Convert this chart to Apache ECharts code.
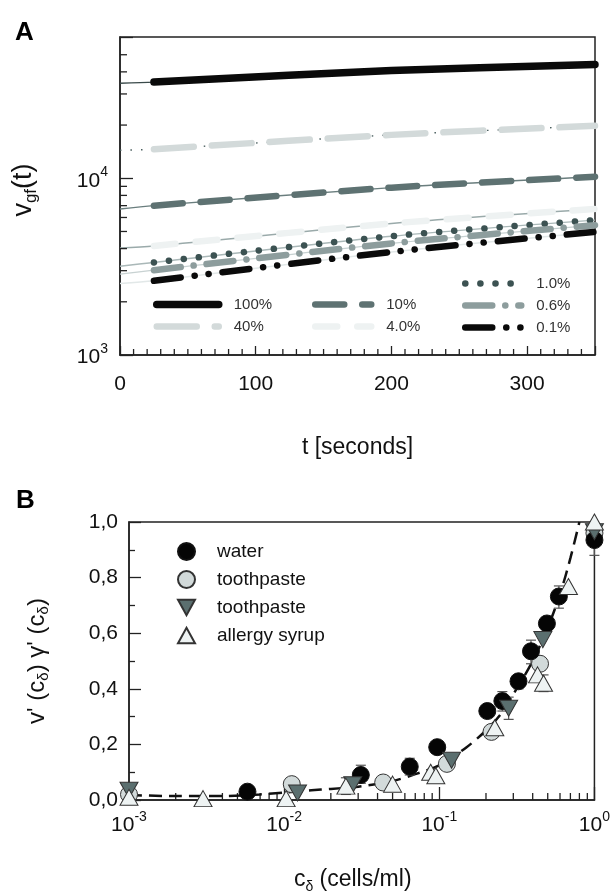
<!DOCTYPE html>
<html><head><meta charset="utf-8">
<script src="https://cdn.jsdelivr.net/npm/echarts@6/dist/echarts.min.js"></script>
<style>html,body{margin:0;padding:0;background:#fff}#c{width:613px;height:895px}</style>
</head><body><div id="c"></div>
<script>
const FONT = 'Liberation Sans, Arial, sans-serif';
// ---------- Panel A data ----------
const timesA = [0, 25, 200, 350];
const v100 = [34500, 35000, 40700, 44000];
const v40  = [14400, 14600, 17600, 19800];
const v10  = [6700, 7000, 8850, 10200];
const v4   = [4040, 4140, 5550, 6700];
const v1   = [3180, 3340, 4700, 5800];
const v06  = [2870, 3020, 4280, 5430];
const v01  = [2540, 2630, 3830, 4970];
const yMinorA = [2000,3000,4000,5000,6000,7000,8000,9000,20000,30000,40000,50000];
const xMinorA = [10,20,30,40,50,60,70,80,90,110,120,130,140,150,160,170,180,190,210,220,230,240,250,260,270,280,290,310,320,330,340];
// ---------- Panel B data ----------
const water = [[0.0058,0.03],[0.0312,0.09],[0.0645,0.12],[0.097,0.19],[0.204,0.32],[0.255,0.356],[0.324,0.427],[0.39,0.535],[0.494,0.635],[0.59,0.732],[1.0,0.935]];
const toothCircle = [[0.001,0.02],[0.0112,0.057],[0.0435,0.063],[0.112,0.13],[0.217,0.245],[0.446,0.49],[1.0,0.96]];
const toothTri = [[0.001,0.035],[0.0122,0.025],[0.0277,0.055],[0.12,0.143],[0.28,0.33],[0.465,0.577],[1.0,0.965]];
const syrup = [[0.001,0.01],[0.003,0.005],[0.0103,0.005],[0.025,0.05],[0.05,0.057],[0.088,0.10],[0.095,0.087],[0.228,0.26],[0.43,0.45],[0.47,0.42],[0.68,0.768],[1.0,1.0]];
const fitX = [0.001,0.002,0.004,0.007,0.01,0.015,0.02,0.03,0.05,0.07,0.1,0.15,0.2,0.25,0.3,0.4,0.5,0.6,0.7,0.8];
const fitY = [0.018,0.014,0.014,0.02,0.027,0.035,0.04,0.048,0.068,0.093,0.125,0.19,0.25,0.31,0.38,0.5,0.62,0.74,0.87,1.0];
const errBars = [[0.0058,0.018,0.042],[0.0312,0.06,0.125],[0.0645,0.09,0.15],[0.025,0.02,0.08],[0.255,0.32,0.39],[0.28,0.29,0.37],[0.324,0.40,0.45],[0.39,0.49,0.575],[0.446,0.47,0.51],[0.47,0.39,0.45],[0.59,0.69,0.77],[1.0,0.88,0.99]];
const xMinorB = [0.002,0.003,0.004,0.005,0.006,0.007,0.008,0.009,0.02,0.03,0.04,0.05,0.06,0.07,0.08,0.09,0.2,0.3,0.4,0.5,0.6,0.7,0.8,0.9];

const zip = (xs, ys) => xs.map((x, i) => [x, ys[i]]);
const chart = echarts.init(document.getElementById('c'), null, {renderer: 'canvas'});

const concs = [
  {name:'100%', v:v100, color:'#0a0a0a', dash:'solid', w:7.5, thin:'#3a4a4a', thinType:'solid'},
  {name:'40%',  v:v40,  color:'#d3dada', dash:[40,18], w:6.5, thin:'#4a5e5e', thinType:[1.5,9]},
  {name:'10%',  v:v10,  color:'#5e7272', dash:[29,18], w:6.5, thin:'#6a7e7e', thinType:'solid'},
  {name:'4.0%', v:v4,   color:'#eef2f2', dash:[22,20], w:6.5, thin:'#9aaaaa', thinType:'solid'},
  {name:'1.0%', v:v1,   color:'#3c5252', dash:[0.1,15], w:6.5, thin:'#aab8b8', thinType:'solid'},
  {name:'0.6%', v:v06,  color:'#8d9d9d', dash:[27,13,0.1,13], w:6.5, thin:'#c8d2d2', thinType:'solid'},
  {name:'0.1%', v:v01,  color:'#0a0a0a', dash:[27,14,0.1,14,0.1,14], w:6.5, thin:'#e2e8e8', thinType:'solid'}
];

const series = [];
concs.forEach(c => {
  series.push({type:'line', name:'thin'+c.name, xAxisIndex:0, yAxisIndex:0, data: zip(timesA, c.v),
    symbol:'none', smooth:0.3, silent:true, z:2,
    lineStyle:{color:c.thin, width:1.4, type:c.thinType}});
});
concs.forEach(c => {
  series.push({type:'line', name:c.name, xAxisIndex:0, yAxisIndex:0, data: zip(timesA.slice(1), c.v.slice(1)),
    symbol:'none', smooth:0.3, silent:true, z:3,
    itemStyle:{color:c.color},
    lineStyle:{color:c.color, width:c.w, type:c.dash, cap:'round'}});
});
// minor ticks A
series.push({type:'scatter', name:'yminA', xAxisIndex:0, yAxisIndex:0, data: yMinorA.map(v=>[0,v]), symbol:'rect',
  symbolSize:[7,1.3], symbolOffset:[3.5,0], itemStyle:{color:'#222', opacity:1}, silent:true, clip:false, z:5});
series.push({type:'scatter', name:'xminA', xAxisIndex:0, yAxisIndex:0, data: xMinorA.map(v=>[v,1000]), symbol:'rect',
  symbolSize:[1.3,6], symbolOffset:[0,-3], itemStyle:{color:'#222', opacity:1}, silent:true, clip:false, z:5});
// Panel B
series.push({type:'scatter', name:'xminB', xAxisIndex:1, yAxisIndex:1, data: xMinorB.map(v=>[v,0]), symbol:'rect',
  symbolSize:[1.3,7], symbolOffset:[0,-3.5], itemStyle:{color:'#222', opacity:1}, silent:true, clip:false, z:1});
series.push({type:'line', name:'fit', xAxisIndex:1, yAxisIndex:1, data: zip(fitX, fitY), symbol:'none', smooth:0.3,
  silent:true, z:2, lineStyle:{color:'#111', width:2.5, type:[13,7]}});
series.push({type:'custom', name:'err', xAxisIndex:1, yAxisIndex:1, data: errBars, silent:true, z:3, clip:false,
  encode:{x:0, y:[1,2]},
  renderItem:(params, api) => {
    const x = api.value(0), lo = api.value(1), hi = api.value(2);
    const p1 = api.coord([x, lo]), p2 = api.coord([x, hi]);
    const w = 5, st = {stroke:'#555', lineWidth:1.2};
    return {type:'group', children:[
      {type:'line', shape:{x1:p1[0],y1:p1[1],x2:p2[0],y2:p2[1]}, style:st},
      {type:'line', shape:{x1:p1[0]-w,y1:p1[1],x2:p1[0]+w,y2:p1[1]}, style:st},
      {type:'line', shape:{x1:p2[0]-w,y1:p2[1],x2:p2[0]+w,y2:p2[1]}, style:st}
    ]};
  }});
const downTri = 'path://M0,0 L10,0 L5,9 Z';
const upTri = 'path://M5,0 L10,9 L0,9 Z';
series.push({type:'scatter', name:'water', xAxisIndex:1, yAxisIndex:1, data: water, symbol:'circle', symbolSize:17,
  itemStyle:{color:'#050505', borderColor:'#111', borderWidth:1, opacity:1}, z:5, clip:false});
series.push({type:'scatter', name:'toothpaste', xAxisIndex:1, yAxisIndex:1, data: toothCircle, symbol:'circle', symbolSize:17,
  itemStyle:{color:'#d2dada', borderColor:'#333', borderWidth:1, opacity:1}, z:4, clip:false});
series.push({type:'scatter', name:'toothpaste ', xAxisIndex:1, yAxisIndex:1, data: toothTri, symbol:downTri, symbolSize:[18,16],
  itemStyle:{color:'#5b6f6f', borderColor:'#333', borderWidth:1, opacity:1}, z:6, clip:false});
series.push({type:'scatter', name:'allergy syrup', xAxisIndex:1, yAxisIndex:1, data: syrup, symbol:upTri, symbolSize:[18,16],
  itemStyle:{color:'#eef3f3', borderColor:'#333', borderWidth:1, opacity:1}, z:7, clip:false});

const pow10Fmt = v => {
  const e = Math.log10(v);
  if (Math.abs(e - Math.round(e)) > 1e-6) return '';
  return '{b|10}{s|' + Math.round(e) + '}';
};
const supRich = {b:{fontSize:21, fontFamily:FONT, color:'#111', lineHeight:26, verticalAlign:'bottom'},
                 s:{fontSize:14, fontFamily:FONT, color:'#111', lineHeight:14, verticalAlign:'top'}};
const axisLineStyle = {show:true, lineStyle:{color:'#222', width:1.5}};
const legA = {orient:'vertical', itemHeight:8, itemGap:7, selectedMode:false,
  itemStyle:{opacity:0}, lineStyle:{width:'inherit'}};

const option = {
  animation:false,
  textStyle:{fontFamily:FONT},
  graphic:[
    {type:'text', left:15, top:20, style:{text:'A', font:'bold 26px ' + FONT, fill:'#000'}},
    {type:'text', left:16, top:488, style:{text:'B', font:'bold 26px ' + FONT, fill:'#000'}}
  ],
  grid:[
    {left:120, top:37, width:475, height:318, show:true, borderColor:'#222', borderWidth:1.5, backgroundColor:'transparent'},
    {left:129, top:522, width:467, height:279, show:true, borderColor:'#222', borderWidth:1.5, backgroundColor:'transparent'}
  ],
  xAxis:[
    {type:'value', gridIndex:0, min:0, max:350, interval:100,
     axisLine:axisLineStyle, splitLine:{show:false},
     axisTick:{show:true, inside:true, length:9, lineStyle:{color:'#222', width:1.3}},
     axisLabel:{fontSize:21, color:'#111', margin:19, formatter:v => (v % 100 === 0 ? String(v) : '')},
     name:'t [seconds]', nameLocation:'middle', nameGap:81, nameTextStyle:{fontSize:23, color:'#111'}},
    {type:'log', gridIndex:1, min:0.001, max:1, logBase:10,
     axisLine:axisLineStyle, splitLine:{show:false},
     axisTick:{show:true, inside:true, length:13, lineStyle:{color:'#222', width:1.3}},
     axisLabel:{margin:10, formatter:pow10Fmt, rich:supRich},
     name:'{a|c}{s|δ}{a| (cells/ml)}', nameLocation:'middle', nameGap:66,
     nameTextStyle:{padding:[0,18,0,0], rich:{a:{fontSize:23, color:'#111', fontFamily:FONT, lineHeight:28}, s:{fontSize:14, color:'#111', fontFamily:FONT, lineHeight:28, verticalAlign:'bottom'}}}}
  ],
  yAxis:[
    {type:'log', gridIndex:0, min:1000, max:63000, logBase:10,
     axisLine:axisLineStyle, splitLine:{show:false},
     axisTick:{show:true, inside:true, length:13, lineStyle:{color:'#222', width:1.3}},
     axisLabel:{margin:12, formatter:pow10Fmt, rich:supRich},
     name:'{a|v}{s|gf}{a|(t)}', nameLocation:'middle', nameGap:80, nameRotate:90,
     nameTextStyle:{padding:[0,0,0,12], rich:{a:{fontSize:27, color:'#111', fontFamily:FONT, lineHeight:32}, s:{fontSize:17, color:'#111', fontFamily:FONT, lineHeight:32, verticalAlign:'bottom'}}}},
    {type:'value', gridIndex:1, min:0, max:1, interval:0.2,
     axisLine:axisLineStyle, splitLine:{show:false},
     axisTick:{show:true, inside:true, length:12, lineStyle:{color:'#222', width:1.3}},
     minorTick:{show:true, splitNumber:2, length:6, lineStyle:{color:'#222', width:1.3}},
     axisLabel:{fontSize:21, color:'#111', margin:11, formatter:v => v.toFixed(1).replace('.', ',')},
     name:"{a|v' (c}{s|δ}{a|) γ' (c}{s|δ}{a|)}", nameLocation:'middle', nameGap:78, nameRotate:90,
     nameTextStyle:{rich:{a:{fontSize:24, color:'#111', fontFamily:FONT, lineHeight:28}, s:{fontSize:15, color:'#111', fontFamily:FONT, lineHeight:28, verticalAlign:'bottom'}}}}
  ],
  legend:[
    Object.assign({left:148, top:292, data:['100%','40%'], itemWidth:62,
     textStyle:{fontSize:15, color:'#333', padding:[0,0,0,10]}}, legA),
    Object.assign({left:307, top:292, data:['10%','4.0%'], itemWidth:56,
     textStyle:{fontSize:15, color:'#333', padding:[0,0,0,10]}}, legA),
    Object.assign({left:457, top:271, data:['1.0%','0.6%','0.1%'], itemWidth:56,
     textStyle:{fontSize:15, color:'#333', padding:[0,0,0,10]}}, legA),
    {left:172, top:537, orient:'vertical', data:['water','toothpaste','toothpaste ','allergy syrup'], itemWidth:17, itemHeight:17, itemGap:9,
     selectedMode:false, textStyle:{fontSize:19, color:'#111', padding:[0,0,0,17]}}
  ],
  series: series
};
chart.setOption(option);
</script></body></html>
